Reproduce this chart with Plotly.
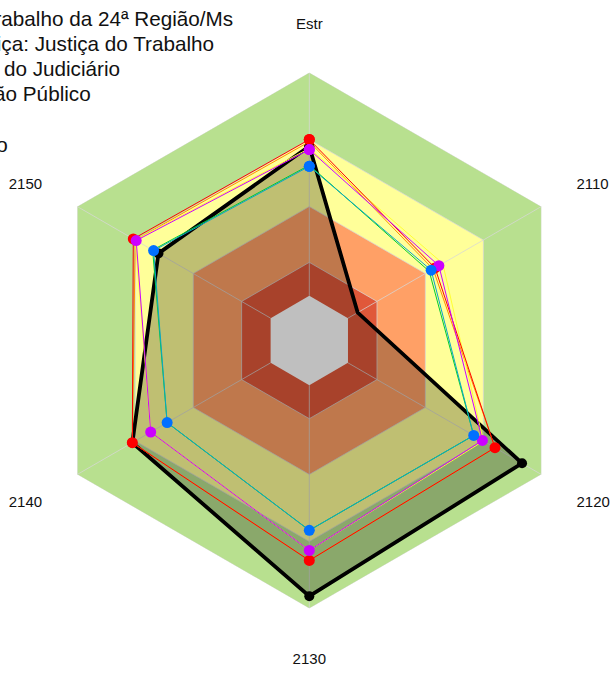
import plotly.graph_objects as go

# ---------------- data ----------------
categories = ["Estr", "2110", "2120", "2130", "2140", "2150"]

org_values = [0.67, 0.05, 0.90, 0.945, 0.715, 0.58]        # black
segment_values = [0.70, 0.45, 0.76, 0.785, 0.715, 0.71]    # red
judiciary_values = [0.655, 0.47, 0.695, 0.74, 0.62, 0.695]  # magenta
public_values = [0.58, 0.43, 0.65, 0.65, 0.535, 0.605]      # blue markers
orange_values = [0.69, 0.44, 0.76, 0.785, 0.715, 0.70]
yellow_values = [0.66, 0.49, 0.70, 0.74, 0.62, 0.70]
green_values = [0.585, 0.42, 0.65, 0.65, 0.535, 0.61]

band_limits = [1.0, 0.70, 0.40, 0.15, 0.0]
band_colors = ["#B8E08F", "#FFFF99", "#FFA066", "#E0583A", "#FFFFFF"]
grid_rings = [0.15, 0.40, 0.70, 1.0]
radial_range = [-0.2, 1.0]

legend_texts = [
    "Tribunal Regional do Trabalho da 24ª Região/Ms",
    "Segmento de Justiça: Justiça do Trabalho",
    "Segmento: Média do Judiciário",
    "Administração Público",
    "Todos os órgãos do Judiciário",
]
legend_right_px = [235, 216, 122, 93, 10]
legend_mid_px = [18.5, 43, 68, 93.5, 145]

W, H = 611, 675
FONT = "Liberation Sans, Arial, sans-serif"


def closed(v):
    return list(v) + [v[0]]


theta_closed = closed(categories)

fig = go.Figure()

# background bands
for lim, col in zip(band_limits, band_colors):
    fig.add_trace(go.Scatterpolar(
        r=[lim] * len(theta_closed), theta=theta_closed, mode="lines",
        fill="toself", fillcolor=col, line=dict(width=0, color=col),
        hoverinfo="skip", showlegend=False))

# grid (spokes + rings) above the bands
spoke_r, spoke_t = [], []
for c in categories:
    spoke_r += [0.0, 1.0, None]
    spoke_t += [c, c, None]
fig.add_trace(go.Scatterpolar(
    r=spoke_r, theta=spoke_t, mode="lines", connectgaps=False,
    line=dict(color="rgba(215,215,215,0.75)", width=1),
    hoverinfo="skip", showlegend=False))
for g in grid_rings:
    fig.add_trace(go.Scatterpolar(
        r=[g] * len(theta_closed), theta=theta_closed, mode="lines",
        line=dict(color="rgba(215,215,215,0.75)", width=1),
        hoverinfo="skip", showlegend=False))

# organisation (black, filled)
fig.add_trace(go.Scatterpolar(
    r=closed(org_values), theta=theta_closed, mode="lines+markers",
    fill="toself", fillcolor="rgba(0,0,0,0.25)",
    line=dict(color="black", width=3.8),
    marker=dict(color="black", size=10),
    name=legend_texts[0], showlegend=False))

# thin helper lines
for vals, col in [(orange_values, "#FF8C00"), (yellow_values, "#FFFF33"),
                  (green_values, "#00CC33")]:
    fig.add_trace(go.Scatterpolar(
        r=closed(vals), theta=theta_closed, mode="lines",
        line=dict(color=col, width=1), showlegend=False))

# comparison series
fig.add_trace(go.Scatterpolar(
    r=closed(segment_values), theta=theta_closed, mode="lines+markers",
    line=dict(color="#FF0000", width=1), marker=dict(color="#FF0000", size=11),
    name=legend_texts[1], showlegend=False))
fig.add_trace(go.Scatterpolar(
    r=closed(judiciary_values), theta=theta_closed, mode="lines+markers",
    line=dict(color="#CC00FF", width=1), marker=dict(color="#CC00FF", size=11),
    name=legend_texts[2], showlegend=False))
fig.add_trace(go.Scatterpolar(
    r=closed(public_values), theta=theta_closed, mode="lines+markers",
    line=dict(color="#0AA5C8", width=1), marker=dict(color="#0070FF", size=11),
    name=legend_texts[3], showlegend=False))

# legend-like labels (partially outside the page on the left)
for txt, xr, ym in zip(legend_texts, legend_right_px, legend_mid_px):
    fig.add_annotation(
        text=txt, xref="paper", yref="paper", x=xr / W, y=1 - ym / H,
        xanchor="right", yanchor="middle", showarrow=False, align="left",
        font=dict(family=FONT, size=20.7, color="#111111"))

cx, cy, R = 309.3, 340.5, 268
fig.update_layout(
    width=W, height=H,
    margin=dict(l=0, r=0, t=0, b=0, autoexpand=False),
    paper_bgcolor="white", plot_bgcolor="white",
    showlegend=False,
    polar=dict(
        domain=dict(x=[(cx - R) / W, (cx + R) / W],
                    y=[(H - (cy + R)) / H, (H - (cy - R)) / H]),
        gridshape="linear",
        bgcolor="rgba(0,0,0,0)",
        radialaxis=dict(range=radial_range, visible=False, showgrid=False,
                        showline=False, showticklabels=False, ticks=""),
        angularaxis=dict(type="category", categoryarray=categories,
                         categoryorder="array", rotation=90,
                         direction="clockwise", showgrid=False,
                         showline=False, showticklabels=True,
                         ticks="outside", ticklen=37,
                         tickcolor="rgba(0,0,0,0)",
                         tickfont=dict(family=FONT, size=15,
                                       color="#111111")),
    ),
)

fig.write_html("out.html",
               config={"displayModeBar": False},
               post_script="document.body.style.margin='0px';")
